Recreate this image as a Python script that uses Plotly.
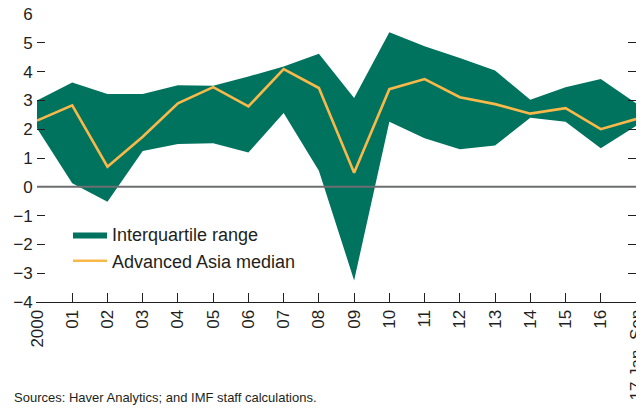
import plotly.graph_objects as go

tick_labels = ["2000", "01", "02", "03", "04", "05", "06", "07", "08", "09",
               "10", "11", "12", "13", "14", "15", "16", "17 Jan–Sep"]
upper = [3.00, 3.62, 3.22, 3.22, 3.53, 3.51, 3.83, 4.18, 4.62, 3.08,
         5.37, 4.88, 4.47, 4.04, 3.02, 3.46, 3.74, 2.90]
lower = [2.03, 0.12, -0.52, 1.24, 1.49, 1.51, 1.19, 2.56, 0.56, -3.25,
         2.26, 1.69, 1.30, 1.43, 2.40, 2.26, 1.34, 2.11]
median = [2.30, 2.83, 0.70, 1.74, 2.90, 3.46, 2.79, 4.09, 3.43, 0.49,
          3.39, 3.74, 3.11, 2.87, 2.54, 2.73, 2.00, 2.35]
y_ticks = [-4, -3, -2, -1, 0, 1, 2, 3, 4, 5, 6]

x = list(range(len(tick_labels)))
GREEN = "#00735F"
ORANGE = "#F9B94A"
TXT = "#231F20"
FONT = "Liberation Sans, Arial, sans-serif"

# page has an 8px body margin: figure is 636x400 drawn at (8, 8)
W, H = 636, 400
L, R, T, B = 29, 8, 6, 106.3
PW, PH = W - L - R, H - T - B

fig = go.Figure()
fig.add_trace(go.Scatter(x=x, y=lower, mode="lines", line=dict(width=0, color=GREEN),
                         showlegend=False, hoverinfo="skip"))
fig.add_trace(go.Scatter(x=x, y=upper, mode="lines", line=dict(width=0, color=GREEN),
                         fill="tonexty", fillcolor=GREEN, name="Interquartile range"))
fig.add_trace(go.Scatter(x=x, y=median, mode="lines", line=dict(width=2.6, color=ORANGE),
                         name="Advanced Asia median"))

fig.add_shape(type="line", xref="x", yref="y", x0=0, x1=17, y0=0, y1=0,
              line=dict(color="#6d6e70", width=2), layer="above")

fig.add_annotation(text="Sources: Haver Analytics; and IMF staff calculations.",
                   xref="paper", yref="paper", x=(4 - L) / PW, y=-(H - 1 - (T + PH)) / PH,
                   xanchor="left", yanchor="bottom", showarrow=False,
                   font=dict(family=FONT, size=13, color=TXT))

fig.update_layout(
    width=W, height=H,
    margin=dict(l=L, r=R, t=T, b=B, autoexpand=False),
    paper_bgcolor="white", plot_bgcolor="white",
    font=dict(family=FONT, color=TXT, size=17),
    showlegend=True,
    legend=dict(x=(60 - L) / PW, y=(T + PH - 208) / PH, xanchor="left", yanchor="top",
                bgcolor="rgba(0,0,0,0)", font=dict(size=18, family=FONT, color=TXT),
                itemwidth=34, tracegroupgap=0, traceorder="normal"),
    xaxis=dict(range=[0, 17], tickmode="array", tickvals=x, ticktext=tick_labels,
               tickangle=-90, ticks="inside", ticklen=9, tickcolor="#231F20",
               showline=True, linecolor="#231F20", linewidth=1, showgrid=False,
               zeroline=False, mirror=False, tickfont=dict(size=17),
               automargin=False, ticklabeloverflow="allow"),
    yaxis=dict(range=[-4, 6], tickmode="array", tickvals=y_ticks,
               ticktext=[("−" + str(-v)) if v < 0 else str(v) for v in y_ticks],
               ticks="inside", ticklen=8, tickcolor="#231F20", mirror="ticks",
               showline=True, linecolor="rgba(0,0,0,0)", linewidth=1,
               showgrid=False, zeroline=False, automargin=False,
               ticklabeloverflow="allow", tickfont=dict(size=17)),
)

fig.write_html("out.html")
